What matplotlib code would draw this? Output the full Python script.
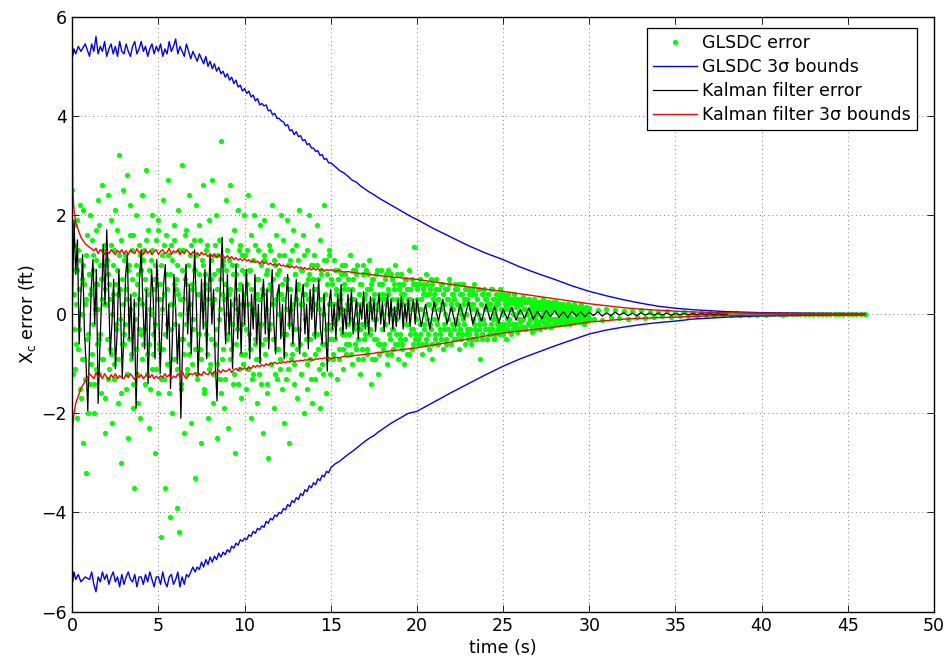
import numpy as np
import matplotlib
matplotlib.use('Agg')
import matplotlib.pyplot as plt

plt.rcParams['font.family'] = ['DejaVu Sans']
plt.rcParams['mathtext.default'] = 'regular'

# ── data ──
# time grid of the 3-sigma bound curves
t_bound = np.concatenate([[0, 0.03, 0.1, 0.2, 0.35, 0.5, 0.75],
                          np.arange(1, 15, 0.125), np.arange(15, 20, 0.25),
                          np.arange(20, 47, 1.0)])

gls_up = [5.45, 5.2, 5.35, 5.25, 5.4, 5.3, 5.45,
          5.2, 5.45, 5.3, 5.6, 5.25, 5.4, 5.3, 5.5,
          5.2, 5.35, 5.45, 5.25, 5.4, 5.2, 5.5, 5.3,
          5.25, 5.45, 5.3, 5.2, 5.4, 5.5, 5.25, 5.35,
          5.5, 5.3, 5.4, 5.2, 5.35, 5.45, 5.25, 5.4,
          5.3, 5.45, 5.2, 5.35, 5.25, 5.5, 5.3, 5.4,
          5.55, 5.25, 5.4, 5.3, 5.2, 5.45, 5.3, 5.15,
          5.3, 5.2, 5.1, 5.25, 5.15, 5.05, 5.2, 5.0,
          5.1, 4.95, 5.05, 4.9, 4.98, 4.85, 4.9, 4.78,
          4.85, 4.72, 4.78, 4.65, 4.72, 4.58, 4.62, 4.5,
          4.55, 4.45, 4.5, 4.38, 4.42, 4.3, 4.35, 4.22,
          4.25, 4.2, 4.22, 4.1, 4.12, 4.02, 4.05, 3.95,
          3.95, 3.9, 3.88, 3.8, 3.82, 3.7, 3.72, 3.62,
          3.68, 3.58, 3.6, 3.5, 3.52, 3.42, 3.44, 3.35,
          3.35, 3.28, 3.3, 3.2, 3.22, 3.12, 3.14, 3.05,
          3.05, 2.98, 2.9, 2.85, 2.78, 2.7, 2.66, 2.58, 2.52, 2.46,
          2.41, 2.35, 2.3, 2.25, 2.2, 2.15, 2.1, 2.05, 2.0, 1.95,
          1.91, 1.72, 1.55, 1.38, 1.23, 1.1, 0.95, 0.82, 0.7, 0.57,
          0.46, 0.37, 0.29, 0.22, 0.16, 0.12, 0.09, 0.07, 0.05, 0.04,
          0.03, 0.025, 0.02, 0.017, 0.015, 0.013, 0.012]

gls_lo = [-5.1, -5.4, -5.2, -5.35, -5.25, -5.4, -5.3,
          -5.35, -5.2, -5.45, -5.6, -5.3, -5.4, -5.2, -5.35,
          -5.25, -5.45, -5.3, -5.2, -5.4, -5.3, -5.5, -5.25,
          -5.45, -5.3, -5.2, -5.35, -5.4, -5.25, -5.5, -5.3,
          -5.3, -5.45, -5.25, -5.4, -5.2, -5.35, -5.5, -5.3,
          -5.3, -5.45, -5.2, -5.4, -5.5, -5.3, -5.25, -5.45,
          -5.35, -5.2, -5.5, -5.3, -5.45, -5.25, -5.3, -5.2,
          -5.1, -5.2, -5.1, -5.15, -5.0, -5.1, -4.95, -5.05,
          -4.9, -5.0, -4.88, -4.95, -4.82, -4.9, -4.8, -4.85,
          -4.75, -4.8, -4.68, -4.72, -4.62, -4.66, -4.55, -4.58,
          -4.52, -4.55, -4.45, -4.48, -4.38, -4.42, -4.32, -4.35,
          -4.27, -4.3, -4.18, -4.22, -4.12, -4.15, -4.05, -4.08,
          -4.0, -4.02, -3.92, -3.95, -3.84, -3.88, -3.76, -3.8,
          -3.7, -3.74, -3.62, -3.66, -3.54, -3.58, -3.46, -3.5,
          -3.4, -3.44, -3.32, -3.36, -3.25, -3.28, -3.17, -3.2,
          -3.1, -3.02, -2.97, -2.9, -2.83, -2.77, -2.7, -2.63, -2.56, -2.5,
          -2.45, -2.38, -2.32, -2.26, -2.2, -2.15, -2.1, -2.05, -2.0, -1.98,
          -1.96, -1.77, -1.58, -1.4, -1.22, -1.05, -0.9, -0.77, -0.64, -0.52,
          -0.40, -0.32, -0.26, -0.21, -0.17, -0.14, -0.1, -0.08, -0.06, -0.045,
          -0.035, -0.03, -0.025, -0.02, -0.017, -0.015, -0.013]

kf_up = [5.3, 2.5, 2.1, 1.85, 1.7, 1.55, 1.42,
         1.35, 1.32, 1.28, 1.33, 1.22, 1.3, 1.26, 1.2,
         1.28, 1.22, 1.3, 1.25, 1.2, 1.28, 1.24, 1.3,
         1.22, 1.28, 1.2, 1.3, 1.25, 1.22, 1.32, 1.24,
         1.27, 1.2, 1.3, 1.23, 1.28, 1.2, 1.26, 1.3,
         1.2, 1.27, 1.3, 1.22, 1.25, 1.33, 1.2, 1.28,
         1.24, 1.3, 1.2, 1.27, 1.22, 1.3, 1.25, 1.2,
         1.26, 1.2, 1.24, 1.18, 1.25, 1.2, 1.22, 1.16,
         1.22, 1.16, 1.2, 1.14, 1.2, 1.15, 1.18, 1.13,
         1.18, 1.12, 1.16, 1.1, 1.14, 1.09, 1.12, 1.08,
         1.12, 1.07, 1.1, 1.05, 1.08, 1.04, 1.07, 1.02,
         1.07, 1.02, 1.05, 1.0, 1.03, 0.99, 1.01, 0.97,
         1.02, 0.97, 0.99, 0.96, 0.98, 0.94, 0.97, 0.93,
         0.97, 0.93, 0.95, 0.91, 0.94, 0.9, 0.93, 0.89,
         0.93, 0.89, 0.92, 0.88, 0.91, 0.87, 0.9, 0.88,
         0.9, 0.87, 0.88, 0.85, 0.86, 0.84, 0.83, 0.82, 0.82, 0.8,
         0.79, 0.78, 0.77, 0.76, 0.75, 0.74, 0.74, 0.72, 0.72, 0.71,
         0.70, 0.65, 0.6, 0.55, 0.5, 0.46, 0.41, 0.36, 0.31, 0.26,
         0.21, 0.17, 0.13, 0.1, 0.08, 0.06, 0.045, 0.035, 0.028, 0.022,
         0.018, 0.015, 0.012, 0.01, 0.009, 0.008, 0.008]

kf_lo = [-5.2, -2.3, -2.0, -1.8, -1.65, -1.5, -1.35,
         -1.2, -1.25, -1.3, -1.18, -1.28, -1.22, -1.3, -1.2,
         -1.27, -1.32, -1.22, -1.28, -1.2, -1.3, -1.24, -1.28,
         -1.3, -1.22, -1.28, -1.2, -1.26, -1.32, -1.22, -1.28,
         -1.22, -1.3, -1.25, -1.2, -1.28, -1.22, -1.3, -1.25,
         -1.3, -1.24, -1.28, -1.2, -1.27, -1.22, -1.3, -1.25,
         -1.28, -1.2, -1.26, -1.15, -1.25, -1.3, -1.22, -1.2,
         -1.22, -1.18, -1.25, -1.2, -1.24, -1.16, -1.2, -1.22,
         -1.16, -1.22, -1.15, -1.2, -1.13, -1.18, -1.12, -1.16,
         -1.14, -1.1, -1.18, -1.12, -1.1, -1.14, -1.08, -1.12,
         -1.08, -1.12, -1.06, -1.1, -1.04, -1.07, -1.03, -1.06,
         -1.02, -1.05, -1.0, -1.03, -0.99, -1.01, -0.97, -1.0,
         -0.98, -0.99, -0.96, -0.98, -0.95, -0.97, -0.94, -0.96,
         -0.94, -0.95, -0.93, -0.94, -0.92, -0.93, -0.9, -0.92,
         -0.93, -0.9, -0.91, -0.89, -0.9, -0.88, -0.89, -0.87,
         -0.9, -0.87, -0.88, -0.85, -0.86, -0.84, -0.83, -0.82, -0.81, -0.8,
         -0.79, -0.77, -0.77, -0.75, -0.74, -0.73, -0.72, -0.71, -0.7, -0.69,
         -0.68, -0.62, -0.56, -0.5, -0.44, -0.38, -0.34, -0.3, -0.26, -0.21,
         -0.16, -0.13, -0.1, -0.085, -0.07, -0.06, -0.045, -0.035, -0.028, -0.022,
         -0.018, -0.015, -0.012, -0.01, -0.009, -0.008, -0.008]

# Kalman filter error
t_kf = np.concatenate([np.linspace(0, 19.9, 200), np.linspace(20, 38, 73)])
kf_err = [0.0, 1.9, 0.8, 1.5, -0.6, 0.4, 1.2, -0.3, -1.0, -1.95,
          -0.6, 0.5, 1.1, -0.2, 0.9, -1.8, -0.7, 0.3, 1.4, 0.2,
          1.7, 0.6, -0.8, -0.2, 0.7, -1.1, -0.4, 0.9, 0.1, -1.3,
          -0.3, 0.8, 1.2, -0.5, 0.4, -0.9, 0.3, -1.9, -0.6, 0.7,
          1.3, 0.2, -0.7, 0.5, -1.4, -0.2, 0.9, 0.3, -0.9, 1.1,
          0.4, -1.2, -0.3, 0.6, 1.0, -0.5, 0.2, -1.5, -0.6, 0.8,
          0.1, -1.0, -0.2, -2.1, -0.7, 0.5, 1.0, -0.4, 0.6, -0.8,
          0.3, 1.3, 0.2, -1.2, -0.4, 0.7, -0.3, 0.9, -0.9, 0.4,
          1.2, -0.2, 0.5, -1.0, -1.75, -0.3, 0.6, 1.55, 0.2, -0.6,
          0.8, -0.4, 0.3, -1.1, 0.1, 1.0, -0.5, 0.4, -0.8, 0.6,
          -0.2, 0.9, 0.1, -0.9, 0.4, -0.3, 0.8, -0.6, 0.2, -1.0,
          0.3, 0.7, -0.4, 0.5, -0.7, 0.1, 0.9, -0.2, -0.8, 0.4,
          0.6, -0.5, 0.2, -0.9, 0.3, 0.8, -0.3, 0.4, -0.6, 0.1,
          0.7, -0.2, -0.8, 0.3, 0.6, -0.4, 0.2, -0.7, 0.5, -0.1,
          0.6, -0.5, 0.1, 0.7, -0.3, -0.6, 0.4, -0.2, -1.15, 0.2,
          0.5, -0.3, 0.2, -0.5, 0.4, -0.1, 0.6, -0.4, 0.1, -0.3,
          0.4, -0.2, 0.5, -0.4, 0.0, 0.3, -0.5, 0.2, -0.1, 0.45,
          -0.3, 0.2, -0.4, 0.35, -0.1, 0.3, -0.35, 0.1, 0.4, -0.2,
          0.25, -0.35, 0.1, 0.4, -0.2, 0.3, -0.3, 0.15, -0.25, 0.3,
          -0.1, 0.35, -0.3, 0.2, -0.15, 0.3, -0.25, 0.1, 0.3, -0.2,
          0.3, -0.25, 0.2, -0.3, 0.25, -0.15, 0.3, -0.2,
          0.15, -0.25, 0.2, -0.1, 0.25, -0.2, 0.1, -0.15,
          0.2, -0.12, 0.15, -0.18, 0.1, -0.1, 0.14, -0.12,
          0.1, -0.08, 0.12, -0.1, 0.06, -0.09, 0.08, -0.05,
          0.07, -0.06, 0.05, -0.07, 0.06, -0.04, 0.05, -0.05,
          0.04, -0.03, 0.05, -0.04, 0.03, -0.03, 0.04, -0.02,
          0.03, -0.03, 0.02, -0.03, 0.03, -0.02, 0.02, -0.02,
          0.02, -0.015, 0.02, -0.02, 0.015, -0.01, 0.015, -0.01,
          0.01, -0.01, 0.012, -0.008, 0.01, -0.008, 0.008, -0.006,
          0.0]

# GLSDC error samples (two interleaved sample sets)
t_gls = np.concatenate([np.linspace(0, 29.95, 600), np.linspace(30, 46, 65)])
gls_err = [
    2.5, -1.2, 0.4, 1.8, -0.6, 0.9, -2.1, 1.3, -0.3, 2.2, -1.7, 0.7, -2.6, 1.0, -0.9, 0.2, -3.2, 1.6, -0.4, 0.8,
    -1.4, 2.0, 0.5, -0.8, 1.2, -2.0, 0.1, 1.7, -1.1, 0.6, 2.3, -0.5, 1.0, -1.6, 0.3, 2.6, -0.9, 1.4, -2.4, 0.2,
    1.1, -1.3, 2.4, 0.6, -0.7, 1.9, -2.2, 0.4, 1.3, -1.0, 2.1, -0.2, 0.9, -1.8, 3.2, 0.5, -3.0, 1.5, -0.6, 2.5,
    -0.4, 1.2, -1.5, 2.8, 0.3, -2.5, 1.0, 2.2, -0.9, 0.7, -1.9, 1.6, -3.5, 0.2, 2.0, -1.2, 0.8, -0.3, 1.4, -2.1,
    0.9, 2.4, -0.6, 1.3, -1.4, 0.5, 2.9, -0.8, 1.7, -2.3, 0.1, 1.1, -1.1, 2.0, -0.4, 0.7, -2.8, 1.5, 0.3, -1.6,
    1.9, -0.7, 0.6, -4.5, 1.2, 2.3, -1.3, 0.4, -3.5, 1.6, -0.2, 2.7, -1.0, 0.8, -4.1, 1.4, -2.0, 0.2, 1.8, -0.9,
    0.5, -3.9, 1.0, 2.1, -4.4, 0.3, -1.5, 3.0, -0.5, 1.3, -2.4, 0.7, 1.7, -1.1, 0.1, 2.4, -0.8, 1.2, -2.2, 0.6,
    -0.3, 1.5, -3.3, 0.9, 2.2, -1.2, 0.4, 1.8, -0.7, -2.6, 1.1, 0.2, 2.6, -1.6, 0.8, -0.4, 1.4, -2.1, 0.5, 1.9,
    -1.0, 0.7, 2.7, -1.8, 0.3, 1.2, -0.6, 2.0, -2.5, 0.9, 1.5, -1.3, 0.1, 3.5, -0.9, 1.1, -1.9, 0.6, 2.3, -0.5,
    1.3, -2.3, 0.4, 2.6, -0.7, 1.0, -1.4, 0.2, 1.7, -2.8, 0.8, -0.3, 2.1, -1.1, 0.5, 1.4, -1.7, 0.9, -0.2, 2.0,
    -0.8, 1.2, -1.5, 0.6, 2.4, -0.4, 0.9, -2.1, 1.6, 0.1, -1.2, 2.0, -0.6, 0.7, -1.8, 1.3, 0.3, -0.9, 1.8, -1.4,
    0.5, -2.4, 1.1, 1.9, -0.5, 0.8, -1.6, -2.9, 1.4, -0.2, 0.6, -1.0, 2.2, 0.2, -1.9, 1.0, -0.7, 1.6, -1.3, 0.4,
    1.2, -0.9, 2.0, -1.5, 0.3, 1.5, -2.2, 0.7, -0.4, 1.9, -1.1, 0.5, -2.6, 1.1, 0.1, -0.8, 1.7, -1.4, 0.8, -0.3,
    1.4, -1.7, 0.6, 2.1, -0.6, 0.9, -1.2, 0.2, 1.6, -2.0, 0.4, -0.5, 1.3, -1.5, 0.7, 2.0, -0.9, 0.3, -1.8, 1.0,
    -0.4, 1.2, -1.3, 0.5, 1.8, -0.7, 0.1, -1.9, 1.5, 0.8, -1.0, 0.3, 2.2, -0.6, 1.1, -1.6, 0.6, -0.2, 1.3, -1.2,
    0.7, -0.5, 0.2, -0.9, 1.1, -0.2, 0.5, -1.3, 0.9, 0.0, -0.7, 0.4, -0.3, 1.0, -1.1, 0.6, -0.4, 0.8, -0.8, 0.1,
    0.5, -0.6, 1.2, -0.1, 0.3, -1.0, 0.7, -0.3, 0.9, -0.7, 0.2, 1.0, -0.5, 0.4, -1.2, 0.6, -0.2, 0.8, -0.9, 0.3,
    -0.4, 0.9, -0.8, 0.2, 1.1, -0.3, 0.5, -1.4, 0.7, -0.1, 0.4, -0.9, 0.8, -0.5, 0.1, -1.2, 0.6, -0.6, 0.9, 0.0,
    0.6, -0.7, 0.3, -0.2, 0.8, -1.0, 0.4, 0.9, -0.4, 0.1, -0.8, 0.7, -0.3, 0.5, -0.6, 1.0, -0.1, 0.3, -0.9, 0.6,
    -0.5, 0.4, 0.8, -0.6, 0.2, -1.0, 0.7, -0.2, 0.5, -0.8, 0.3, 0.9, -0.4, 0.1, -0.7, 0.6, -0.3, 1.35, -0.5, 0.2,
    0.5, -0.6, 0.1, 0.7, -0.4, 0.3, -0.8, 0.6, -0.2, 0.4, -0.6, 0.8, -0.1, 0.2, -0.7, 0.5, -0.3, 0.6, -0.9, 0.1,
    0.4, -0.5, 0.7, -0.2, 0.3, -0.6, 0.5, -0.4, 0.1, 0.6, -0.7, 0.2, -0.3, 0.5, -0.5, 0.3, -0.1, 0.7, -0.4, 0.2,
    -0.6, 0.4, 0.1, -0.3, 0.6, -0.5, 0.2, 0.5, -0.2, -0.7, 0.4, 0.0, -0.4, 0.6, -0.1, 0.3, -0.6, 0.5, -0.3, 0.2,
    0.5, -0.4, 0.2, -0.6, 0.4, -0.1, 0.6, -0.3, 0.1, -0.5, 0.3, 0.5, -0.2, -0.9, 0.2, -0.4, 0.4, -0.1, 0.5, -0.3,
    0.3, -0.5, 0.1, 0.4, -0.3, 0.2, -0.4, 0.5, -0.1, 0.3, -0.5, 0.1, 0.4, -0.2, 0.2, -0.4, 0.5, -0.3, 0.1, -0.2,
    0.4, -0.3, 0.2, -0.5, 0.3, -0.1, 0.4, -0.2, 0.1, -0.4, 0.3, 0.0, -0.3, 0.4, -0.2, 0.2, -0.35, 0.3, -0.1, 0.2,
    -0.3, 0.3, -0.1, 0.35, -0.25, 0.1, -0.3, 0.25, 0.0, -0.2, 0.3, -0.1, 0.2, -0.35, 0.15, -0.05, 0.3, -0.2, 0.1, -0.15,
    0.25, -0.2, 0.1, -0.3, 0.2, -0.05, 0.3, -0.15, 0.05, -0.25, 0.2, 0.0, -0.2, 0.25, -0.1, 0.15, -0.25, 0.1, 0.2, -0.1,
    -0.2, 0.15, 0.25, -0.1, 0.05, -0.2, 0.2, -0.15, 0.1, -0.05, 0.2, -0.2, 0.0, 0.15, -0.1, 0.2, -0.15, 0.05, -0.2, 0.1,
    0.15, -0.1, 0.2, -0.15, 0.05, -0.1, 0.15, -0.05, 0.1, -0.15, 0.2, 0.0, -0.1, 0.1, -0.2, 0.05, 0.15, -0.1, 0.05, -0.05,
    0.12, -0.1, 0.08, -0.12, 0.1, -0.06, 0.09, -0.08, 0.07, -0.09, 0.06, -0.05, 0.08, -0.07, 0.05, -0.06,
    0.05, -0.04, 0.06, -0.05, 0.03, -0.04, 0.04, -0.03, 0.03, -0.03, 0.02, -0.02, 0.03, -0.02, 0.02, -0.02,
    0.02, -0.01, 0.015, -0.015, 0.01, -0.01, 0.012, -0.008, 0.01, -0.01, 0.008, -0.006, 0.007, -0.007, 0.006, -0.005,
    0.005, -0.005, 0.004, -0.004, 0.004, -0.003, 0.003, -0.003, 0.003, -0.002, 0.002, -0.002, 0.002, -0.002, 0.002, -0.001,
    0.0]

t_gls2 = np.linspace(0.025, 29.975, 600)
gls_err2 = [
    0.9, -0.3, 1.4, -1.1, 0.2, 1.9, -0.7, 0.5, -1.5, 1.1, 0.0, -0.9, 2.1, 0.6, -1.3, 0.3, 1.2, -0.5, -2.0, 0.8,
    0.4, -1.0, 1.5, -0.2, 0.9, -1.4, 0.6, 1.1, -0.6, 0.1, -1.2, 1.8, -0.4, 0.7, -0.9, 1.3, 0.2, -1.7, 0.5, 1.0,
    -0.5, 0.8, -1.1, 0.3, 1.4, -0.8, 0.0, 1.0, -1.3, 0.6, -0.3, 1.7, -0.9, 0.4, 1.2, -0.1, -1.6, 0.7, 0.2, -0.6,
    1.1, -0.2, 0.5, -1.2, 0.9, -0.5, 1.6, 0.1, -0.8, 1.3, -1.4, 0.4, -0.1, 1.0, -0.7, 0.6, -1.8, 0.3, 1.2, -0.4,
    0.2, -0.9, 1.1, -0.3, 0.7, 1.5, -1.2, 0.4, -0.6, 0.9, -1.5, 0.0, 1.3, -0.8, 0.5, -0.2, 1.0, -1.1, 0.6, 1.7,
    -0.6, 0.3, -1.3, 1.0, 0.1, -0.7, 1.4, -0.4, 0.8, -1.0, 0.5, 1.2, -1.6, 0.2, -0.3, 1.1, -0.9, 0.6, 1.5, -0.2,
    0.7, -1.1, 0.4, 1.3, -0.5, 0.0, -1.4, 0.9, 0.3, -0.8, 1.6, -0.2, 0.6, -1.2, 1.0, -0.6, 0.2, 1.4, -1.0, 0.5,
    -0.1, 0.9, -0.7, 1.2, -1.3, 0.4, 0.8, -0.4, 1.5, -0.9, 0.1, 1.0, -1.5, 0.6, -0.2, 1.3, -0.8, 0.3, -1.1, 0.7,
    1.1, -0.5, 0.2, -1.2, 0.8, 1.4, -0.3, 0.5, -1.0, 1.2, -0.1, 0.7, -1.6, 0.4, 1.0, -0.7, 0.3, -1.3, 0.9, 0.0,
    -0.4, 1.1, -0.9, 0.5, 1.5, -0.2, 0.8, -1.2, 0.3, 1.0, -0.6, 0.1, -1.4, 1.3, 0.6, -0.8, 0.2, 1.2, -1.0, 0.4,
    0.8, -0.3, 1.3, -1.1, 0.2, 0.9, -0.7, 0.5, -1.3, 1.1, 0.0, -0.5, 1.4, -0.9, 0.4, 0.7, -1.2, 0.3, -0.2, 1.0,
    -0.6, 0.4, 1.2, -0.8, 0.1, -1.4, 0.9, 0.5, -0.3, 1.3, -1.0, 0.2, 0.7, -0.5, 1.1, -1.2, 0.3, 0.8, -0.7, 0.0,
    0.9, -1.1, 0.4, 0.6, -0.4, 1.2, -0.8, 0.1, -1.3, 0.7, 1.0, -0.2, 0.5, -0.9, 1.3, -0.6, 0.2, -1.0, 0.8, 0.3,
    -0.7, 0.5, 1.1, -0.3, 0.2, -1.2, 0.9, 0.4, -0.8, 1.2, -0.1, 0.6, -1.0, 0.3, 0.8, -0.5, 1.0, -1.3, 0.1, 0.7,
    0.5, -0.8, 0.2, 1.0, -0.4, 0.7, -1.1, 0.3, 0.9, -0.6, 0.0, -1.2, 1.1, 0.4, -0.3, 0.8, -0.9, 0.2, 1.2, -0.5,
    -0.3, 0.6, -0.8, 0.2, 0.9, -0.5, 0.4, -0.1, 0.7, -0.9, 0.3, 0.8, -0.4, 0.1, -0.7, 0.5, 1.0, -0.6, 0.2, -0.2,
    0.7, -0.4, 0.1, -0.8, 0.5, 0.9, -0.2, 0.3, -0.6, 0.8, 0.0, -0.9, 0.4, 0.6, -0.3, 0.2, -0.7, 1.0, -0.5, 0.4,
    -0.2, 0.5, -0.7, 0.8, 0.1, -0.4, 0.6, -0.9, 0.3, 0.7, -0.5, 0.2, -0.1, 0.9, -0.6, 0.4, -0.8, 0.3, 0.6, -0.3,
    0.4, -0.6, 0.7, -0.2, 0.2, -0.8, 0.5, 0.0, -0.5, 0.8, -0.3, 0.3, -0.7, 0.6, 0.1, -0.4, 0.8, -0.6, 0.2, 0.5,
    -0.4, 0.3, -0.7, 0.6, 0.0, 0.4, -0.5, 0.7, -0.2, 0.2, -0.8, 0.5, 0.3, -0.3, 0.7, -0.6, 0.1, -0.4, 0.6, -0.1,
    0.3, -0.5, 0.6, -0.2, 0.1, -0.6, 0.4, 0.5, -0.3, 0.0, -0.5, 0.6, -0.4, 0.2, 0.4, -0.2, 0.7, -0.6, 0.3, -0.1,
    0.2, -0.4, 0.5, -0.6, 0.3, 0.1, -0.3, 0.6, -0.5, 0.2, 0.4, -0.2, 0.0, -0.6, 0.5, -0.3, 0.3, 0.6, -0.4, 0.1,
    -0.2, 0.4, -0.5, 0.3, 0.5, -0.1, 0.2, -0.4, 0.6, -0.3, 0.1, -0.5, 0.4, 0.2, -0.2, 0.5, -0.4, 0.0, 0.3, -0.5,
    0.4, -0.3, 0.1, 0.5, -0.5, 0.2, -0.2, 0.4, -0.4, 0.3, 0.0, -0.3, 0.5, -0.1, 0.2, -0.5, 0.4, -0.2, 0.1, 0.3,
    -0.3, 0.2, 0.4, -0.4, 0.1, -0.2, 0.5, -0.3, 0.3, 0.0, -0.4, 0.2, 0.4, -0.1, -0.3, 0.3, -0.2, 0.4, 0.0, -0.4,
    0.3, -0.2, 0.1, 0.35, -0.3, 0.2, -0.1, 0.3, -0.35, 0.1, 0.25, -0.2, 0.0, 0.3, -0.25, 0.15, -0.3, 0.2, 0.05, -0.15,
    0.2, -0.25, 0.3, -0.1, 0.1, -0.3, 0.25, 0.0, -0.2, 0.3, -0.15, 0.1, 0.25, -0.25, 0.05, 0.2, -0.1, -0.3, 0.15, 0.0,
    -0.15, 0.2, -0.25, 0.1, 0.25, -0.1, 0.0, 0.2, -0.2, 0.15, -0.05, 0.25, -0.15, 0.05, -0.25, 0.2, 0.1, -0.1, 0.25, -0.2,
    0.15, -0.15, 0.05, 0.2, -0.2, 0.1, -0.1, 0.2, 0.0, -0.15, 0.15, -0.2, 0.1, 0.05, -0.1, 0.2, -0.15, 0.15, -0.05, 0.1,
    -0.1, 0.15, -0.15, 0.05, 0.1, -0.05, 0.15, -0.1, 0.0, 0.12, -0.12, 0.08, -0.08, 0.1, -0.15, 0.05, 0.12, -0.05, 0.1, -0.1]

x_ticks = [0, 5, 10, 15, 20, 25, 30, 35, 40, 45, 50]
y_ticks = [-6, -4, -2, 0, 2, 4, 6]

# ── plot ──
fig = plt.figure(figsize=(9.51, 6.67), dpi=100)
ax = fig.add_axes([0.076, 0.083, 0.906, 0.892])

dot = dict(linestyle='none', marker='o', markersize=3.8, markeredgewidth=0, color='#00ff00')
ax.plot(t_gls, gls_err, label='GLSDC error', **dot)
ax.plot(t_gls2, gls_err2, **dot)
ax.plot(t_bound, gls_up, color='#0000ff', lw=1.0, label='GLSDC 3σ bounds')
ax.plot(t_bound, gls_lo, color='#0000ff', lw=1.0)
ax.plot(t_kf, kf_err, color='black', lw=0.9, label='Kalman filter error')
ax.plot(t_bound, kf_up, color='#ff0000', lw=1.0, label='Kalman filter 3σ bounds')
ax.plot(t_bound, kf_lo, color='#ff0000', lw=1.0)

ax.set_xlim(0, 50)
ax.set_ylim(-6, 6)
ax.set_xticks(x_ticks)
ax.set_yticks(y_ticks)
ax.tick_params(direction='in', top=True, right=True, length=5, width=0.6,
               labelsize=12.5, pad=4)
ax.grid(True, linestyle=(0, (1, 4)), color='#555555', lw=0.6)
for s in ax.spines.values():
    s.set_linewidth(1.0)

ax.set_xlabel('time (s)', fontsize=12.5, labelpad=3)
ax.set_ylabel(r'X$_{c}$ error (ft)', fontsize=12.5, labelpad=2)

leg = ax.legend(loc='upper right', bbox_to_anchor=(0.980, 0.9815), borderaxespad=0,
                fontsize=12.5, numpoints=1, handlelength=2.5, handletextpad=0.3,
                labelspacing=0.35, borderpad=0.35, fancybox=False, framealpha=1)
leg.get_frame().set_edgecolor('black')
leg.get_frame().set_linewidth(0.9)

fig.savefig('out.png', dpi=100)
